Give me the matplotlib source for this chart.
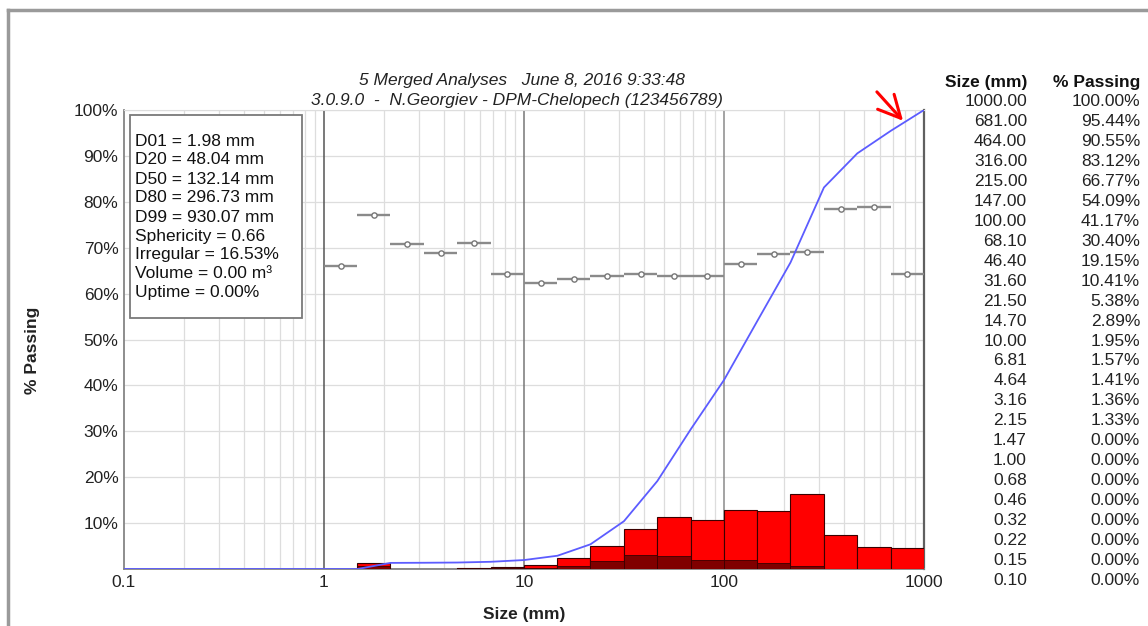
import numpy as np
import matplotlib
matplotlib.use('Agg')
import matplotlib.pyplot as plt
from matplotlib.patches import Rectangle
from matplotlib.lines import Line2D

plt.rcParams['font.family'] = ['Liberation Sans', 'DejaVu Sans']

# table on the right: size (mm) and cumulative % passing
sizes = [1000.00, 681.00, 464.00, 316.00, 215.00, 147.00, 100.00, 68.10, 46.40, 31.60,
         21.50, 14.70, 10.00, 6.81, 4.64, 3.16, 2.15, 1.47, 1.00, 0.68, 0.46, 0.32,
         0.22, 0.15, 0.10]
passing = [100.00, 95.44, 90.55, 83.12, 66.77, 54.09, 41.17, 30.40, 19.15, 10.41,
           5.38, 2.89, 1.95, 1.57, 1.41, 1.36, 1.33, 0.00, 0.00, 0.00, 0.00, 0.00,
           0.00, 0.00, 0.00]

# histogram bins (ascending edges), % retained per bin, dark red part
edges = [0.10, 0.15, 0.22, 0.32, 0.46, 0.68, 1.00, 1.47, 2.15, 3.16, 4.64, 6.81,
         10.0, 14.7, 21.5, 31.6, 46.4, 68.1, 100, 147, 215, 316, 464, 681, 1000]
retained = [0, 0, 0, 0, 0, 0, 0, 1.33, 0.03, 0.05, 0.16, 0.38, 0.94, 2.49, 5.03,
            8.74, 11.25, 10.77, 12.92, 12.68, 16.35, 7.43, 4.89, 4.56]
dark = [0, 0, 0, 0, 0, 0, 0, 0.6, 0.03, 0.05, 0.16, 0.3, 0.3, 0.7, 1.7,
        3.0, 2.8, 2.0, 2.0, 1.3, 0.65, 0, 0, 0]

# gray segments (per bin, from 1 mm up)
seg_val = [66.1, 77.1, 70.7, 68.9, 71.0, 64.2, 62.4, 63.2, 63.9, 64.2, 63.9, 63.8,
           66.4, 68.7, 69.0, 78.4, 78.8, 64.3]

stats = ['D01 = 1.98 mm', 'D20 = 48.04 mm', 'D50 = 132.14 mm', 'D80 = 296.73 mm',
         'D99 = 930.07 mm', 'Sphericity = 0.66', 'Irregular = 16.53%',
         'Volume = 0.00 m\u00b3', 'Uptime = 0.00%']

xticks = [0.1, 1, 10, 100, 1000]
xtick_labels = ['0.1', '1', '10', '100', '1000']
yticks = [10, 20, 30, 40, 50, 60, 70, 80, 90, 100]

W, H = 1148, 626
fs = 12.5

fig = plt.figure(figsize=(W / 100, H / 100), dpi=100)
ax = fig.add_axes([124 / W, 1 - 569 / H, 800 / W, 459 / H])
ax.set_xscale('log')
ax.set_xlim(0.1, 1000)
ax.set_ylim(0, 100)

# grid
ax.set_xticks([m * 10.0 ** e for e in range(-1, 3) for m in range(2, 10)], minor=True)
ax.grid(which='minor', axis='x', color='#dddddd', lw=0.9)
ax.set_yticks(yticks)
ax.grid(which='major', axis='y', color='#dddddd', lw=0.9)
for xv, c in [(1, '#555555'), (10, '#777777'), (100, '#8a8a8a')]:
    ax.axvline(xv, color=c, lw=1.1, zorder=1.5)
ax.set_axisbelow(True)

for s in ['left', 'bottom']:
    ax.spines[s].set_color('#858585')
    ax.spines[s].set_linewidth(1.3)
ax.spines['right'].set_color('#606060')
ax.spines['right'].set_linewidth(1.6)
ax.spines['top'].set_color('#dddddd')

# bars
lo = np.array(edges[:-1])
wd = np.diff(edges)
r = np.array(retained)
d = np.array(dark)
m = r > 0
ax.bar(lo[m], r[m], width=wd[m], align='edge', color='#ff0000',
       edgecolor='#3a0000', lw=0.8, zorder=3)
m2 = d > 0
ax.bar(lo[m2], d[m2], width=wd[m2], align='edge', color='#800000',
       edgecolor='#3a0000', lw=0.6, zorder=3.2)

# gray segments with small circles
slo = np.array(edges[6:-1])
shi = np.array(edges[7:])
ax.hlines(seg_val, slo, shi, color='#8a8a8a', lw=1.7, zorder=3.5)
ax.plot(np.sqrt(slo * shi), seg_val, 'o', ms=3.8, mfc='white', mec='#777777',
        mew=1.0, zorder=3.6, ls='none')

# cumulative curve
ax.plot(sizes, passing, color='#5c5cff', lw=1.3, zorder=4)

ax.set_xticks(xticks)
ax.set_xticklabels(xtick_labels)
ax.set_yticklabels([f'{v}%' for v in yticks])
ax.tick_params(which='both', length=0, labelsize=fs, colors='#222222')
ax.tick_params(axis='x', pad=4)
ax.tick_params(axis='y', pad=4)

# red arrow
ax.annotate('', xy=(803, 97.2), xytext=(569, 104.4),
            arrowprops=dict(arrowstyle='->,head_length=0.8,head_width=0.4',
                            color='#ff0000', lw=2.2, mutation_scale=20),
            annotation_clip=False, zorder=6)

# stats box
fig.add_artist(Rectangle((130 / W, 1 - 318 / H), 172 / W, 203 / H,
                         transform=fig.transFigure, facecolor='white',
                         edgecolor='#7a7a7a', lw=1.3, zorder=5))
for i, t in enumerate(stats):
    fig.text(135 / W, 1 - (141 + i * 19) / H, t, fontsize=fs, va='center',
             ha='left', color='#111111', zorder=6)

# titles
fig.text(522 / W, 1 - 80 / H, '5 Merged Analyses   June 8, 2016 9:33:48',
         fontsize=fs, style='italic', ha='center', va='center', color='#222222')
fig.text(517 / W, 1 - 101 / H, '3.0.9.0  -  N.Georgiev - DPM-Chelopech (123456789)',
         fontsize=fs, style='italic', ha='center', va='center', color='#222222')

# axis labels
fig.text(33 / W, 1 - 350 / H, '% Passing', rotation=90, fontsize=fs,
         fontweight='bold', ha='center', va='center', color='#222222')
fig.text(524 / W, 1 - 615 / H, 'Size (mm)', fontsize=fs, fontweight='bold',
         ha='center', va='center', color='#222222')

# table
fig.text(1027 / W, 1 - 82 / H, 'Size (mm)', fontsize=fs, fontweight='bold',
         ha='right', va='center', color='#111111')
fig.text(1140 / W, 1 - 82 / H, '% Passing', fontsize=fs, fontweight='bold',
         ha='right', va='center', color='#111111')
for i, (s, p) in enumerate(zip(sizes, passing)):
    y = 1 - (102 + i * 19.92) / H
    fig.text(1027 / W, y, f'{s:.2f}', fontsize=fs, ha='right', va='center',
             color='#222222')
    fig.text(1140 / W, y, f'{p:.2f}%', fontsize=fs, ha='right', va='center',
             color='#222222')

# outer frame
fig.add_artist(Line2D([8 / W, 8 / W], [0, 1 - 10 / H], transform=fig.transFigure,
                      color='#9a9a9a', lw=2.5))
fig.add_artist(Line2D([8 / W, 1], [1 - 10 / H, 1 - 10 / H], transform=fig.transFigure,
                      color='#9a9a9a', lw=2.5))

fig.savefig('out.png', dpi=100)
